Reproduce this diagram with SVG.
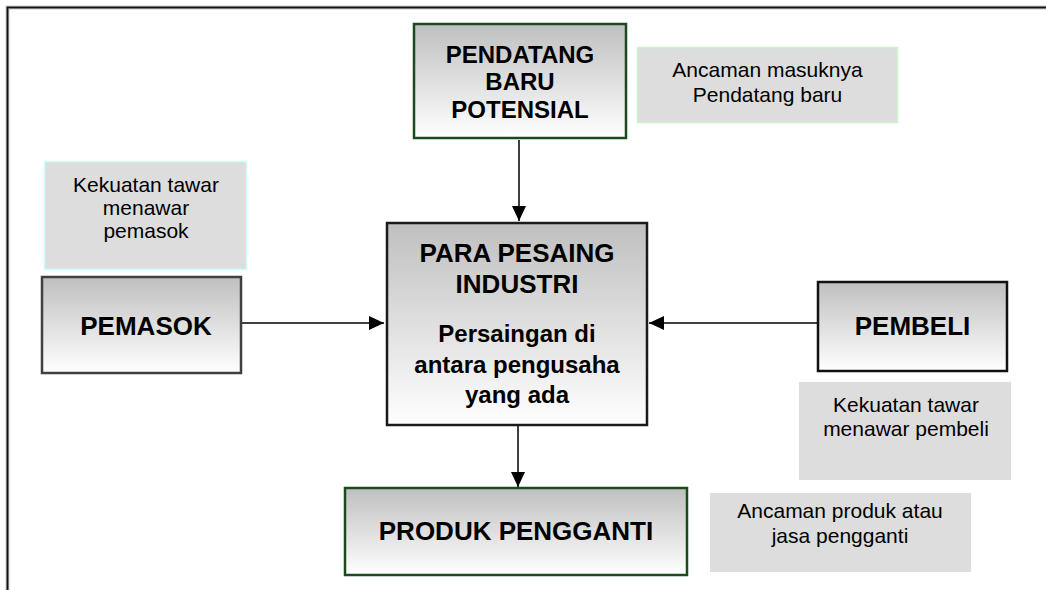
<svg xmlns="http://www.w3.org/2000/svg" width="1046" height="590" viewBox="0 0 1046 590">
<defs>
<linearGradient id="g" x1="0" y1="0" x2="0" y2="1">
<stop offset="0" stop-color="#bfbfbf"/>
<stop offset="1" stop-color="#ffffff"/>
</linearGradient>
<marker id="ah" markerWidth="15" markerHeight="14" refX="15" refY="7" orient="auto" markerUnits="userSpaceOnUse">
<path d="M0,0 L15,7 L0,14 Z" fill="#000"/>
</marker>
<style>
.box{fill:url(#g);stroke-width:2.5}
.lbl{fill:#dddddd}
.t{font-family:"Liberation Sans",Arial,sans-serif;text-anchor:middle;fill:#000}
.b{font-weight:bold}
.conn{stroke:#000;stroke-width:1.5;fill:none;marker-end:url(#ah)}
</style>
</defs>
<rect width="1046" height="590" fill="#fff"/>
<path d="M7.5,590 V7.5 H1046" fill="none" stroke="#999" stroke-width="3.5"/>
<path d="M7.5,590 V7.5 H1046" fill="none" stroke="#111" stroke-width="1.5"/>

<g id="connectors">
<line class="conn" x1="519" y1="140" x2="519" y2="221"/>
<line class="conn" x1="242" y1="323" x2="384" y2="323"/>
<line class="conn" x1="817" y1="323" x2="649" y2="323"/>
<line class="conn" x1="518" y1="425" x2="518" y2="487"/>
</g>

<g id="pendatang">
<rect class="box" x="414" y="24" width="212" height="114" stroke="#1c4a1c"/>
<text class="t b" font-size="24"><tspan x="520" y="63">PENDATANG</tspan><tspan x="520" y="90">BARU</tspan><tspan x="520" y="118">POTENSIAL</tspan></text>
</g>

<g id="label-pendatang">
<rect class="lbl" x="637.5" y="47.5" width="260" height="75" stroke="#ccf5cc" stroke-width="1.5"/>
<text class="t" font-size="21"><tspan x="767.5" y="77">Ancaman masuknya</tspan><tspan x="767.5" y="102">Pendatang baru</tspan></text>
</g>

<g id="label-pemasok">
<rect class="lbl" x="44.5" y="161.5" width="202" height="108" stroke="#ccffff" stroke-width="1.5"/>
<text class="t" font-size="21"><tspan x="146" y="192">Kekuatan tawar</tspan><tspan x="146" y="215">menawar</tspan><tspan x="146" y="238">pemasok</tspan></text>
</g>

<g id="pemasok">
<rect class="box" x="42" y="277" width="199" height="96" stroke="#404040"/>
<text class="t b" font-size="26" x="146" y="335">PEMASOK</text>
</g>

<g id="pesaing">
<rect class="box" x="387" y="223" width="260" height="202" stroke="#1a1a1a"/>
<text class="t b" font-size="26"><tspan x="517" y="262">PARA PESAING</tspan><tspan x="517" y="293">INDUSTRI</tspan></text>
<text class="t b" font-size="24"><tspan x="517" y="342">Persaingan di</tspan><tspan x="517" y="373">antara pengusaha</tspan><tspan x="517" y="403">yang ada</tspan></text>
</g>

<g id="pembeli">
<rect class="box" x="818" y="282" width="189" height="89" stroke="#111"/>
<text class="t b" font-size="26" x="912.5" y="335">PEMBELI</text>
</g>

<g id="label-pembeli">
<rect class="lbl" x="799" y="382" width="212" height="98"/>
<text class="t" font-size="21"><tspan x="906" y="412">Kekuatan tawar</tspan><tspan x="906" y="436">menawar pembeli</tspan></text>
</g>

<g id="produk">
<rect class="box" x="345" y="488" width="342" height="87" stroke="#1c4a1c"/>
<text class="t b" font-size="26" x="516" y="540">PRODUK PENGGANTI</text>
</g>

<g id="label-produk">
<rect class="lbl" x="710" y="493" width="261" height="79"/>
<text class="t" font-size="21"><tspan x="840" y="518">Ancaman produk atau</tspan><tspan x="840" y="543">jasa pengganti</tspan></text>
</g>
</svg>
